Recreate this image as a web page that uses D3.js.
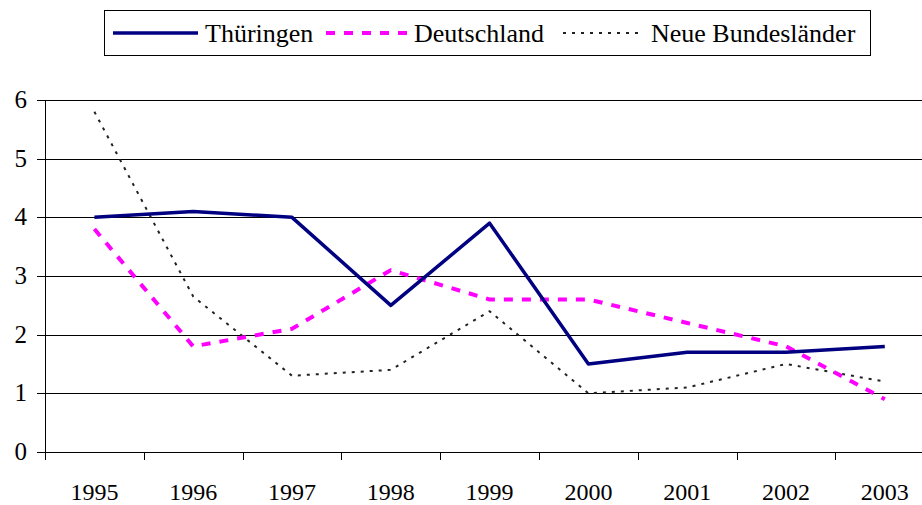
<!DOCTYPE html>
<html>
<head>
<meta charset="utf-8">
<script src="https://cdn.jsdelivr.net/npm/d3@7"></script>
<style>
  body { margin: 0; background: #fff; }
</style>
</head>
<body>
<svg width="922" height="505"></svg>
<script>
// data
var years = ["1995", "1996", "1997", "1998", "1999", "2000", "2001", "2002", "2003"];
var thueringen = [4.0, 4.1, 4.0, 2.5, 3.9, 1.5, 1.7, 1.7, 1.8];
var deutschland = [3.8, 1.8, 2.1, 3.1, 2.6, 2.6, 2.2, 1.8, 0.9];
var neueLaender = [5.8, 2.65, 1.3, 1.4, 2.4, 1.0, 1.1, 1.5, 1.2];
var yTicks = [0, 1, 2, 3, 4, 5, 6];

var serif = "Liberation Serif";

var svg = d3.select("svg"),
	width = +svg.attr("width"),
	height = +svg.attr("height");

var x = d3.scaleBand()
	.domain(years)
	.range([45, 45 + 9 * 98.8])
	.padding(0);

var y = d3.scaleLinear()
	.domain([0, 6])
	.range([452, 100]);

// gridlines
svg.append("g")
	.selectAll("line")
	.data(yTicks)
	.enter()
	.append("line")
	.attr("x1", 37)
	.attr("x2", width)
	.attr("y1", d => Math.round(y(d)) + 0.5)
	.attr("y2", d => Math.round(y(d)) + 0.5)
	.style("stroke", "#000")
	.style("stroke-width", 1);

// y axis line
svg.append("line")
	.attr("x1", 45.5).attr("x2", 45.5)
	.attr("y1", y(6)).attr("y2", y(0) + 8)
	.style("stroke", "#000");

// y labels
svg.append("g")
	.selectAll("text")
	.data(yTicks)
	.enter()
	.append("text")
	.attr("x", 27)
	.attr("y", d => y(d) + 8)
	.attr("text-anchor", "end")
	.attr("font-family", serif)
	.attr("font-size", 25)
	.text(d => d);

// x ticks on band boundaries
var boundaries = years.map(d => x(d)).slice(1).concat([x(years[years.length - 1]) + x.bandwidth()]);
svg.append("g")
	.selectAll("line")
	.data(boundaries)
	.enter()
	.append("line")
	.attr("x1", d => Math.round(d) + 0.5)
	.attr("x2", d => Math.round(d) + 0.5)
	.attr("y1", y(0))
	.attr("y2", y(0) + 8)
	.style("stroke", "#000");

// x labels
svg.append("g")
	.selectAll("text")
	.data(years)
	.enter()
	.append("text")
	.attr("x", d => x(d) + x.bandwidth() / 2)
	.attr("y", 500)
	.attr("text-anchor", "middle")
	.attr("font-family", serif)
	.attr("font-size", 24)
	.text(d => d);

var line = d3.line()
	.x((d, i) => x(years[i]) + x.bandwidth() / 2)
	.y(d => y(d));

var series = [
	{ name: "Neue Bundesländer", values: neueLaender, color: "#222", w: 2, dash: "3,6" },
	{ name: "Deutschland", values: deutschland, color: "#ff00ff", w: 4, dash: "9,9" },
	{ name: "Thüringen", values: thueringen, color: "#000080", w: 3.5, dash: null }
];

svg.append("g")
	.selectAll("path")
	.data(series)
	.enter()
	.append("path")
	.attr("d", d => line(d.values))
	.style("fill", "none")
	.style("stroke", d => d.color)
	.style("stroke-width", d => d.w)
	.style("stroke-dasharray", d => d.dash)
	.style("stroke-linejoin", "round");

// legend
var legend = svg.append("g");
legend.append("rect")
	.attr("x", 104.5).attr("y", 10.5)
	.attr("width", 766).attr("height", 45)
	.style("fill", "#fff")
	.style("stroke", "#000");

var legendItems = [
	{ s: series[2], x1: 113, x2: 198, tx: 205 },
	{ s: series[1], x1: 326, x2: 407, tx: 414 },
	{ s: series[0], x1: 563, x2: 641, tx: 651 }
];

legendItems.forEach(function (it) {
	legend.append("line")
		.attr("x1", it.x1).attr("x2", it.x2)
		.attr("y1", 33).attr("y2", 33)
		.style("stroke", it.s.color)
		.style("stroke-width", it.s.w)
		.style("stroke-dasharray", it.s.dash);
	legend.append("text")
		.attr("x", it.tx)
		.attr("y", 42)
		.attr("font-family", serif)
		.attr("font-size", 26)
		.text(it.s.name);
});
</script>
</body>
</html>
